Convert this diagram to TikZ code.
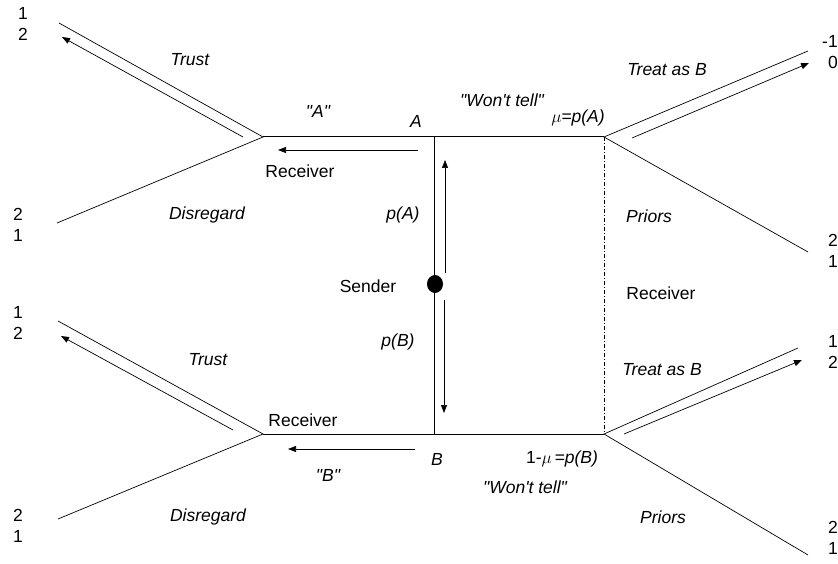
\documentclass[tikz,border=0pt]{standalone}
\usepackage{fontspec}
\newfontfamily\arialfont{Liberation Sans}
\usetikzlibrary{arrows.meta}
\begin{document}
\begin{tikzpicture}[x=1pt,y=-1pt,font=\arialfont\fontsize{17.5}{20.5}\selectfont,
  lbl/.style={inner sep=0pt},
  mv/.style={-{Triangle[length=8pt,width=6pt]},line width=0.7pt},
  pay/.style={inner sep=0pt,align=left,anchor=west},
  payr/.style={inner sep=0pt,align=right,anchor=east},
  branch/.style={line width=0.7pt}]
\useasboundingbox (0,0) rectangle (838,564);
\coordinate (rA) at (263,137);
\coordinate (rB) at (263,434);
\coordinate (nA) at (434,137);
\coordinate (nB) at (434,434);
\coordinate (iA) at (604,137);
\coordinate (iB) at (604,434);
\coordinate (snd) at (435,284);
\coordinate (tlUe) at (59,23);
\coordinate (tlDe) at (57,223);
\coordinate (blUe) at (58,321);
\coordinate (blDe) at (58,519);
\coordinate (trUe) at (808,51);
\coordinate (trDe) at (808,252);
\coordinate (brUe) at (798,348);
\coordinate (brDe) at (808,555);
\draw[line width=1pt] (rA) -- (iA);
\draw[line width=1pt] (rB) -- (iB);
\draw[line width=0.9pt] (nA) -- (nB);
\draw[line width=0.6pt,dash pattern=on 4pt off 2pt on 1pt off 2pt] (iA) -- (iB);
\fill (snd) ellipse (8pt and 9pt);
\draw[branch] (tlUe) -- (rA) -- (tlDe);
\draw[branch] (blUe) -- (rB) -- (blDe);
\draw[branch] (trUe) -- (iA) -- (trDe);
\draw[branch] (brUe) -- (iB) -- (brDe);
\coordinate (tlA0) at (243,137);
\coordinate (tlA1) at (62,37);
\coordinate (blA0) at (233,430);
\coordinate (blA1) at (61,336);
\coordinate (trA0) at (632,138);
\coordinate (trA1) at (809,63);
\coordinate (brA0) at (624,434);
\coordinate (brA1) at (802,360);
\coordinate (upA0) at (445,273);
\coordinate (upA1) at (445,160);
\coordinate (dnA0) at (444,300);
\coordinate (dnA1) at (444,413);
\coordinate (lA0) at (418,150);
\coordinate (lA1) at (278,150);
\coordinate (lB0) at (415,449);
\coordinate (lB1) at (288,449);
\draw[mv] (tlA0) -- (tlA1);
\draw[mv] (blA0) -- (blA1);
\draw[mv] (trA0) -- (trA1);
\draw[mv] (brA0) -- (brA1);
\draw[mv] (upA0) -- (upA1);
\draw[mv] (dnA0) -- (dnA1);
\draw[mv] (lA0) -- (lA1);
\draw[mv] (lB0) -- (lB1);
\node[pay] (tlU) at (18,24) {1\\2};
\node[pay] (tlD) at (13,225) {2\\1};
\node[pay] (blU) at (13,323) {1\\2};
\node[pay] (blD) at (13,526) {2\\1};
\node[payr] (trU) at (838,52) {-1\\0};
\node[payr] (trD) at (838,251) {2\\1};
\node[payr] (brU) at (838,352) {1\\2};
\node[payr] (brD) at (838,538) {2\\1};
\node[lbl] (trustA) at (190,60) {\itshape Trust};
\node[lbl] (trustB) at (208,360) {\itshape Trust};
\node[lbl] (disA) at (207,215) {\itshape Disregard};
\node[lbl] (disB) at (208,517) {\itshape Disregard};
\node[lbl] (msgA) at (318,111) {\itshape "A"};
\node[lbl] (msgB) at (328,475) {\itshape "B"};
\node[lbl] (typA) at (416,121) {\itshape A};
\node[lbl] (typB) at (437,459) {\itshape B};
\node[lbl] (wontA) at (502,100) {\itshape "Won't tell"};
\node[lbl] (wontB) at (525,487) {\itshape "Won't tell"};
\node[lbl] (muA) at (578,118) {\itshape $\mu$=p(A)};
\node[lbl] (muB) at (562,459) {1-$\mu$\,\itshape =p(B)};
\node[lbl] (recA) at (300,171) {Receiver};
\node[lbl] (recB) at (303,420) {Receiver};
\node[lbl] (recI) at (661,293) {Receiver};
\node[lbl] (sender) at (368,286) {Sender};
\node[lbl] (pA) at (403,215) {\itshape p(A)};
\node[lbl] (pB) at (398,342) {\itshape p(B)};
\node[lbl] (treatA) at (667,70) {\itshape Treat as B};
\node[lbl] (treatB) at (662,370) {\itshape Treat as B};
\node[lbl] (priA) at (649,216) {\itshape Priors};
\node[lbl] (priB) at (663,517) {\itshape Priors};
\end{tikzpicture}
\end{document}
